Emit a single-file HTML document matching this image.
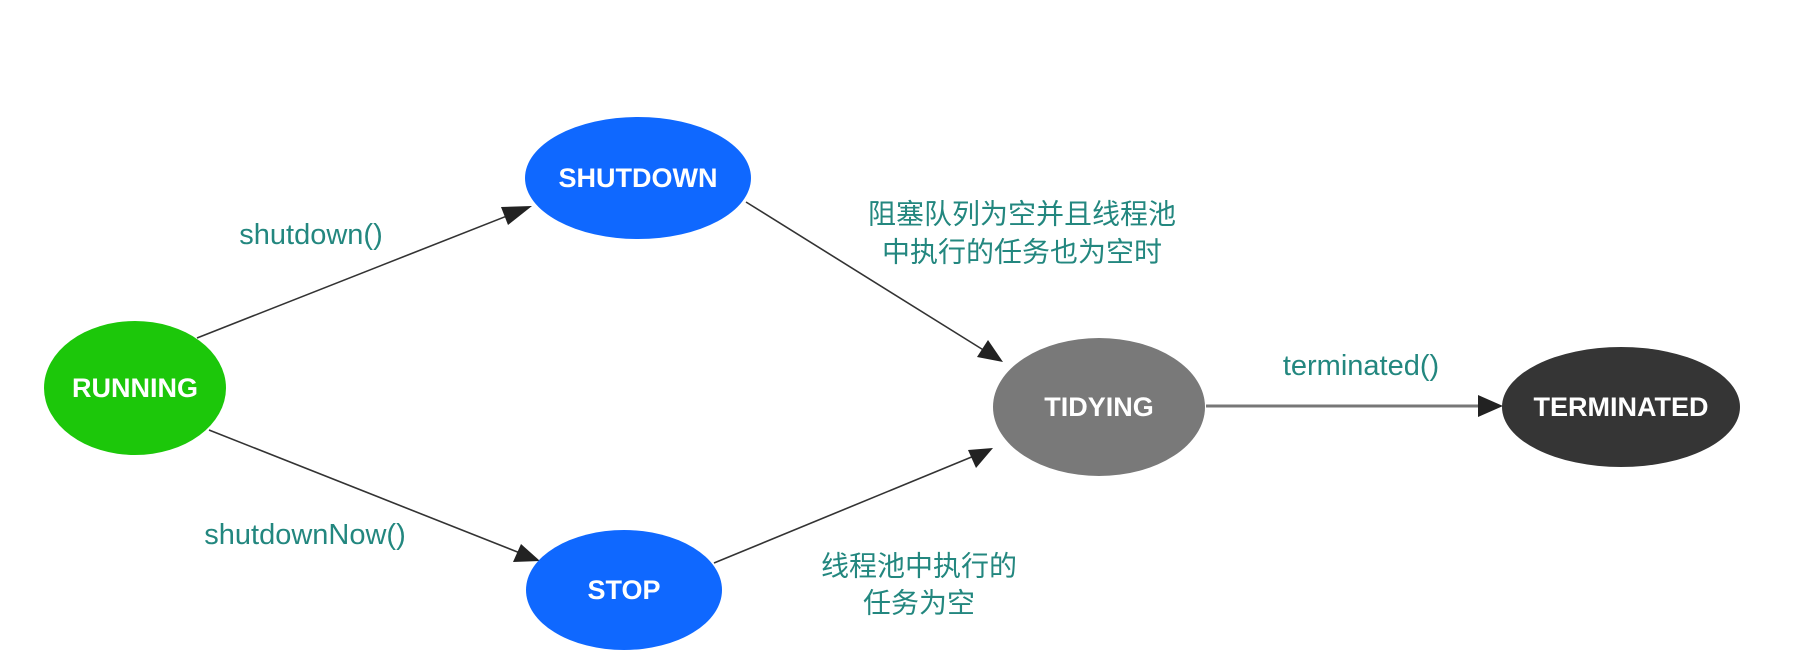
<!DOCTYPE html>
<html><head><meta charset="utf-8"><style>
html,body{margin:0;padding:0;background:#fff;}
svg{display:block;}
.n{font-family:"Liberation Sans","Noto Sans CJK SC",sans-serif;font-weight:bold;font-size:27px;fill:#fff;text-anchor:middle;dominant-baseline:central;}
.l{font-family:"Liberation Sans","Noto Sans CJK SC",sans-serif;font-size:29px;fill:#23877f;text-anchor:middle;dominant-baseline:central;}
.c{font-family:"Liberation Sans","Noto Sans CJK SC",sans-serif;font-size:28px;fill:#23877f;text-anchor:middle;dominant-baseline:central;}
</style></head><body>
<svg width="1794" height="650" viewBox="0 0 1794 650">
<g stroke="#333" stroke-width="1.6" fill="none">
<line x1="197" y1="338" x2="512" y2="214"/>
<line x1="209" y1="430" x2="520" y2="553"/>
<line x1="746" y1="202" x2="985" y2="351"/>
<line x1="714" y1="563" x2="974" y2="456"/>
</g>
<line x1="1206" y1="406" x2="1480" y2="406" stroke="#777" stroke-width="3"/>
<g fill="#222">
<polygon points="532,206 508,225 501,207"/>
<polygon points="540,561 513,562 521,544"/>
<polygon points="1003,362 977,357 988,340"/>
<polygon points="993,448 976,468 968,450"/>
<polygon points="1503,406 1478,395 1478,417"/>
</g>
<ellipse cx="135" cy="388" rx="91" ry="67" fill="#1cc70a"/>
<ellipse cx="638" cy="178" rx="113" ry="61" fill="#0f68ff"/>
<ellipse cx="624" cy="590" rx="98" ry="60" fill="#0f68ff"/>
<ellipse cx="1099" cy="407" rx="106" ry="69" fill="#797979"/>
<ellipse cx="1621" cy="407" rx="119" ry="60" fill="#353535"/>
<text class="n" x="135" y="388">RUNNING</text>
<text class="n" x="638" y="178">SHUTDOWN</text>
<text class="n" x="624" y="590">STOP</text>
<text class="n" x="1099" y="407">TIDYING</text>
<text class="n" x="1621" y="407">TERMINATED</text>
<text class="l" x="311" y="235">shutdown()</text>
<text class="l" x="305" y="535">shutdownNow()</text>
<text class="l" x="1361" y="366">terminated()</text>
<text class="c" x="1022" y="214">阻塞队列为空并且线程池</text>
<text class="c" x="1022" y="252">中执行的任务也为空时</text>
<text class="c" x="919" y="566">线程池中执行的</text>
<text class="c" x="919" y="603">任务为空</text>
</svg>
</body></html>
